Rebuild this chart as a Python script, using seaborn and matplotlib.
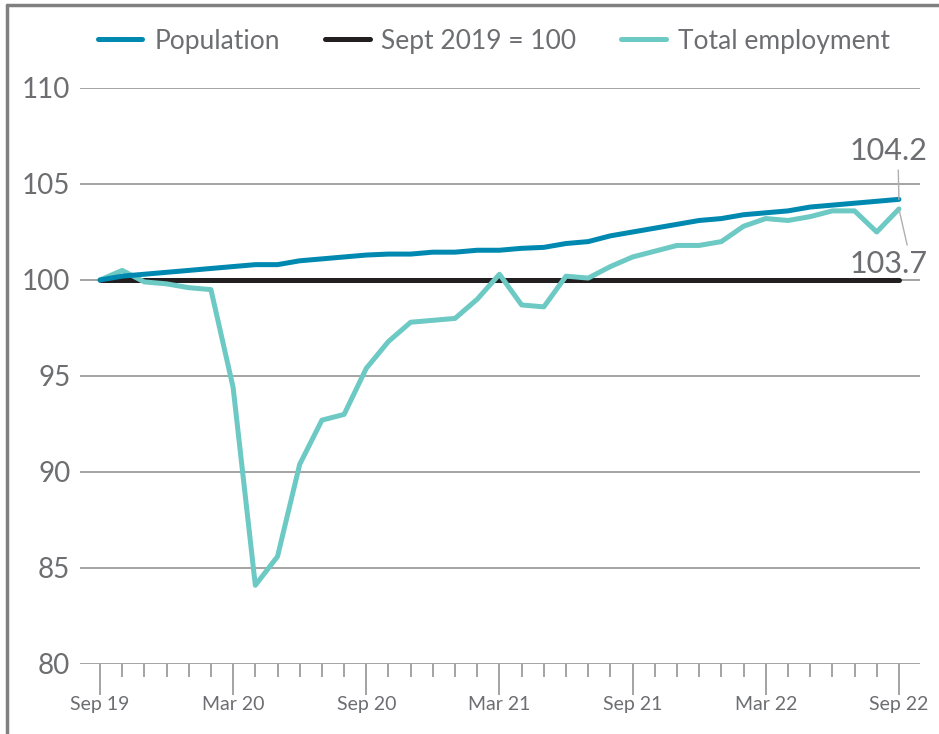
import numpy as np
import pandas as pd
import matplotlib
matplotlib.use("Agg")
import matplotlib.pyplot as plt
import seaborn as sns
from matplotlib.lines import Line2D

############################################################
##### Data
############################################################

months = pd.date_range("2019-09-01", "2022-09-01", freq="MS")

population = [
    100.0, 100.2, 100.3, 100.4, 100.5, 100.6, 100.7, 100.8, 100.8, 101.0,
    101.1, 101.2, 101.3, 101.35, 101.35, 101.45, 101.45, 101.55, 101.55, 101.65,
    101.7, 101.9, 102.0, 102.3, 102.5, 102.7, 102.9, 103.1, 103.2, 103.4,
    103.5, 103.6, 103.8, 103.9, 104.0, 104.1, 104.2,
]

employment = [
    100.0, 100.5, 99.9, 99.8, 99.6, 99.5, 94.4, 84.1, 85.6, 90.4,
    92.7, 93.0, 95.4, 96.8, 97.8, 97.9, 98.0, 99.0, 100.3, 98.7,
    98.6, 100.2, 100.1, 100.7, 101.2, 101.5, 101.8, 101.8, 102.0, 102.8,
    103.2, 103.1, 103.3, 103.6, 103.6, 102.5, 103.7,
]

baseline = [100.0] * len(months)

major_labels = ["Sep 19", "Mar 20", "Sep 20", "Mar 21", "Sep 21", "Mar 22", "Sep 22"]
y_ticks = [80, 85, 90, 95, 100, 105, 110]

############################################################
##### Plot
############################################################

sns.set_style("white")
plt.rcParams["font.family"] = ["Lato", "DejaVu Sans"]

text_grey = "#6d6e71"
grid_grey = "#8a8a8a"
pop_col = "#0089b0"
emp_col = "#6cc9c4"
base_col = "#231f20"

df = pd.DataFrame({
    "idx": np.arange(len(months)),
    "Population": population,
    "Total employment": employment,
    "Sept 2019 = 100": baseline,
})

fig = plt.figure(figsize=(9.39, 7.34), dpi=100)
ax = fig.add_axes([80 / 939, 70 / 734, 840 / 939, 576 / 734])

for y in y_ticks:
    ax.axhline(y, color=grid_grey, lw=1.1, zorder=0)

lw = 3.6
sns.lineplot(data=df, x="idx", y="Sept 2019 = 100", color=base_col, lw=lw, ax=ax,
             solid_capstyle="round")
sns.lineplot(data=df, x="idx", y="Total employment", color=emp_col, lw=lw, ax=ax,
             solid_capstyle="round")
sns.lineplot(data=df, x="idx", y="Population", color=pop_col, lw=lw, ax=ax,
             solid_capstyle="round")

ax.set_xlim(-0.9, 36.95)
ax.set_ylim(80, 110)
ax.set_xlabel("")
ax.set_ylabel("")
for s in ax.spines.values():
    s.set_visible(False)

ax.set_yticks(y_ticks)
ax.set_yticklabels([str(v) for v in y_ticks])
ax.tick_params(axis="y", left=False, length=0, pad=7, labelsize=20, labelcolor=text_grey)

ax.set_xticks(np.arange(0, len(months), 6))
ax.set_xticklabels(major_labels)
ax.set_xticks(np.arange(len(months)), minor=True)
ax.tick_params(axis="x", which="major", bottom=True, length=22, width=1.1, color=grid_grey,
               labelsize=14, labelcolor=text_grey, pad=1)
ax.tick_params(axis="x", which="minor", bottom=True, length=9, width=1.1, color=grid_grey)

# end-point labels with leader lines
last = len(months) - 1
ax.annotate(f"{population[-1]:.1f}", xy=(last, population[-1]), xytext=(last + 1.3, 106.7),
            ha="right", va="center", fontsize=22, color=text_grey,
            arrowprops=dict(arrowstyle="-", color="#b0b0b0", lw=1, shrinkA=1, shrinkB=0,
                            relpos=(0.62, 0.0)))
ax.annotate(f"{employment[-1]:.1f}", xy=(last, employment[-1]), xytext=(last + 1.3, 100.85),
            ha="right", va="center", fontsize=22, color=text_grey,
            arrowprops=dict(arrowstyle="-", color="#b0b0b0", lw=1, shrinkA=1, shrinkB=0,
                            relpos=(0.75, 1.0)))

handles = [
    Line2D([], [], color=pop_col, lw=lw, solid_capstyle="round"),
    Line2D([], [], color=base_col, lw=lw, solid_capstyle="round"),
    Line2D([], [], color=emp_col, lw=lw, solid_capstyle="round"),
]
leg = fig.legend(handles, ["Population", "Sept 2019 = 100", "Total employment"],
                 loc="center", bbox_to_anchor=(0.526, 0.944), ncol=3, frameon=False,
                 fontsize=19, handlelength=1.7, columnspacing=1.7, handletextpad=0.45)
for t in leg.get_texts():
    t.set_color(text_grey)

# outer frame (left and top)
fig.add_artist(Line2D([7 / 939, 7 / 939], [0, 1 - 5 / 734], color="#808080", lw=2.5,
                      transform=fig.transFigure))
fig.add_artist(Line2D([7 / 939, 1], [1 - 5 / 734, 1 - 5 / 734], color="#808080", lw=2.5,
                      transform=fig.transFigure))

fig.savefig("out.png", dpi=100)
